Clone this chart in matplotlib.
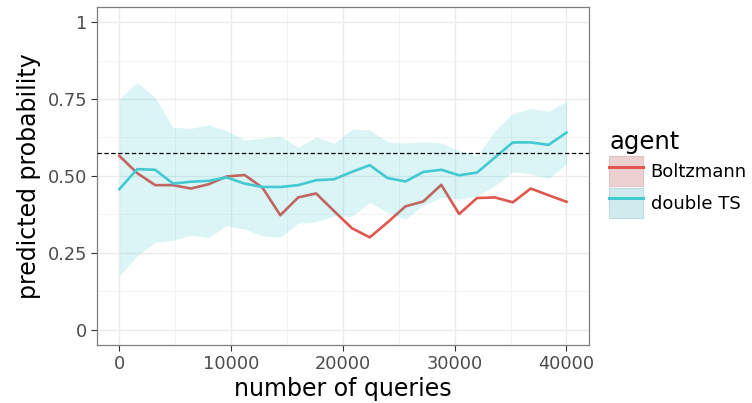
import numpy as np
import matplotlib.pyplot as plt
from matplotlib.patches import Patch
from matplotlib.lines import Line2D

queries = np.arange(0, 40001, 1600)

boltzmann = [0.565, 0.509, 0.470, 0.470, 0.459, 0.473, 0.498, 0.503, 0.462, 0.372,
             0.430, 0.443, 0.386, 0.330, 0.300, 0.349, 0.401, 0.417, 0.471, 0.376,
             0.428, 0.430, 0.414, 0.459, 0.437, 0.416]

double_ts = [0.457, 0.522, 0.520, 0.475, 0.481, 0.484, 0.495, 0.475, 0.464, 0.464,
             0.470, 0.486, 0.489, 0.513, 0.535, 0.493, 0.482, 0.513, 0.520, 0.502,
             0.511, 0.560, 0.609, 0.609, 0.601, 0.641]
double_ts_hi = [0.752, 0.804, 0.755, 0.658, 0.655, 0.666, 0.647, 0.617, 0.623, 0.630,
                0.593, 0.627, 0.606, 0.652, 0.650, 0.611, 0.607, 0.611, 0.607, 0.582,
                0.565, 0.647, 0.703, 0.719, 0.710, 0.744]
double_ts_lo = [0.175, 0.240, 0.284, 0.291, 0.307, 0.300, 0.338, 0.327, 0.305, 0.300,
                0.346, 0.351, 0.370, 0.368, 0.414, 0.381, 0.359, 0.405, 0.430, 0.424,
                0.435, 0.468, 0.513, 0.506, 0.492, 0.538]

baseline = 0.574

red = "#E0574F"
cyan = "#42C9D1"
grey_text = "#4D4D4D"

fig = plt.figure(figsize=(7.52, 4.03), dpi=100)
ax = fig.add_axes([0.129, 0.144, 0.654, 0.839])

ax.plot(queries, boltzmann, color=red, lw=1.9, zorder=3)
ax.fill_between(queries, double_ts_lo, double_ts_hi, color="#00BFC4", alpha=0.14, lw=0, zorder=4)
ax.plot(queries, double_ts, color=cyan, lw=1.9, zorder=5)
ax.axhline(baseline, color="black", ls=(0, (3.5, 2)), lw=0.9, zorder=6)

ax.set_xlim(-2000, 42000)
ax.set_ylim(-0.05, 1.05)
ax.set_xticks([0, 10000, 20000, 30000, 40000])
ax.set_xticks([5000, 15000, 25000, 35000], minor=True)
ax.set_yticks([0, 0.25, 0.5, 0.75, 1])
ax.set_yticklabels(["0", "0.25", "0.50", "0.75", "1"])
ax.set_yticks([0.125, 0.375, 0.625, 0.875], minor=True)
ax.grid(which="major", color="#EBEBEB", lw=1.0, zorder=0)
ax.grid(which="minor", color="#F2F2F2", lw=0.6, zorder=0)
ax.set_axisbelow(True)
for s in ax.spines.values():
    s.set_color("#7F7F7F")
    s.set_linewidth(0.9)
ax.tick_params(which="major", length=4, color="#333333", labelsize=12.8, labelcolor=grey_text, pad=3)
ax.tick_params(which="minor", length=0)

ax.set_xlabel("number of queries", fontsize=17, labelpad=3)
ax.set_ylabel("predicted probability", fontsize=17, labelpad=5)

handles = [(Patch(facecolor="#EDD0D0", edgecolor="#DDC3C3", lw=0.8), Line2D([], [], color=red, lw=2.2)),
           (Patch(facecolor="#D0EAED", edgecolor="#BEDCDF", lw=0.8), Line2D([], [], color=cyan, lw=2.2))]
fig.legend(handles, ["Boltzmann", "double TS"], title="agent", loc="upper left",
           bbox_to_anchor=(0.810, 0.677), frameon=False, fontsize=13,
           title_fontsize=17.5, handlelength=1.9, handleheight=2.15, handletextpad=0.4,
           labelspacing=0.12, borderaxespad=0, borderpad=0, alignment="left")

fig.savefig("out.png", dpi=100)
